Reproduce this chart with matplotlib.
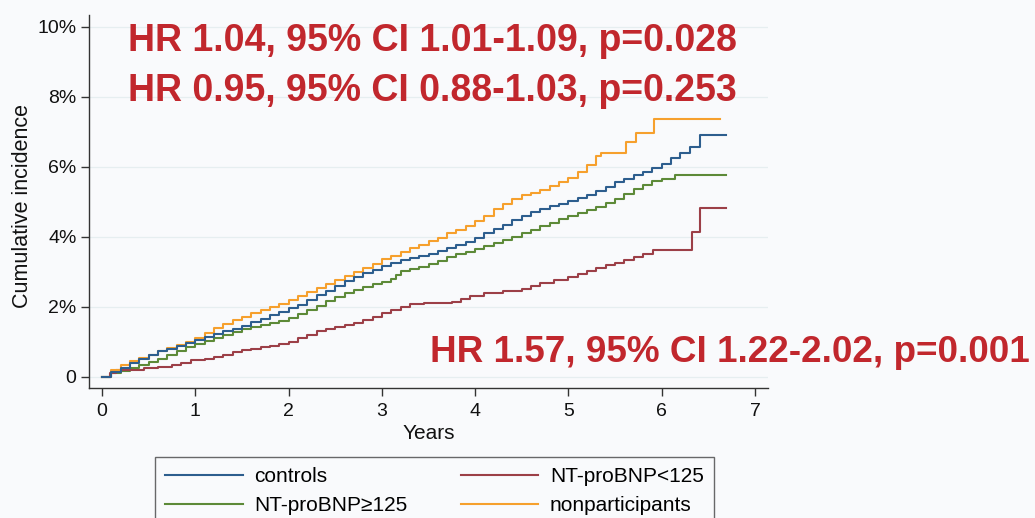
import matplotlib
matplotlib.use("Agg")
import matplotlib.pyplot as plt
from matplotlib.ticker import FixedLocator

plt.rcParams['font.family'] = ['Liberation Sans', 'DejaVu Sans']

# ---- data (cumulative incidence in %) ----
t_controls = [0.0, 0.1, 0.2, 0.3, 0.4, 0.5, 0.6, 0.7, 0.8, 0.9, 1.0, 1.1, 1.2, 1.3, 1.4, 1.5,
              1.6, 1.7, 1.8, 1.9, 2.0, 2.1, 2.2, 2.3, 2.4, 2.5, 2.6, 2.7, 2.8, 2.9, 3.0, 3.1,
              3.2, 3.3, 3.4, 3.5, 3.6, 3.7, 3.8, 3.9, 4.0, 4.1, 4.2, 4.3, 4.4, 4.5, 4.6, 4.7,
              4.8, 4.9, 5.0, 5.1, 5.2, 5.3, 5.4, 5.5, 5.6, 5.7, 5.8, 5.9, 6.0, 6.1, 6.2, 6.3,
              6.41, 6.69]
y_controls = [0.0, 0.13, 0.26, 0.38, 0.5, 0.62, 0.73, 0.8, 0.87, 0.96, 1.04, 1.14, 1.23, 1.3,
              1.36, 1.45, 1.56, 1.66, 1.76, 1.86, 1.95, 2.06, 2.2, 2.33, 2.46, 2.6, 2.73, 2.85,
              2.96, 3.06, 3.15, 3.24, 3.33, 3.4, 3.46, 3.52, 3.58, 3.67, 3.76, 3.86, 3.97, 4.1,
              4.22, 4.34, 4.48, 4.6, 4.7, 4.8, 4.87, 4.94, 5.02, 5.1, 5.2, 5.3, 5.42, 5.55,
              5.65, 5.75, 5.84, 5.95, 6.08, 6.25, 6.4, 6.57, 6.89, 6.89]

t_low = [0.0, 0.08, 0.15, 0.45, 0.6, 0.75, 0.85, 0.95, 1.1, 1.2, 1.3, 1.4, 1.5, 1.6, 1.7, 1.8,
         1.9, 2.0, 2.1, 2.2, 2.3, 2.4, 2.5, 2.6, 2.7, 2.8, 2.9, 3.0, 3.1, 3.2, 3.3, 3.45, 3.75,
         3.85, 3.95, 4.1, 4.3, 4.5, 4.6, 4.7, 4.85, 5.0, 5.1, 5.2, 5.3, 5.4, 5.5, 5.6, 5.7,
         5.8, 5.91, 6.32, 6.41, 6.69]
y_low = [0.0, 0.1, 0.19, 0.24, 0.29, 0.33, 0.4, 0.48, 0.52, 0.57, 0.62, 0.7, 0.76, 0.8, 0.84,
         0.88, 0.93, 1.0, 1.1, 1.2, 1.3, 1.36, 1.42, 1.48, 1.55, 1.62, 1.72, 1.82, 1.92, 2.0,
         2.07, 2.1, 2.14, 2.22, 2.3, 2.38, 2.45, 2.52, 2.6, 2.67, 2.75, 2.86, 2.94, 3.02, 3.1,
         3.2, 3.26, 3.34, 3.42, 3.5, 3.62, 4.14, 4.81, 4.81]

t_high = [0.0, 0.1, 0.2, 0.3, 0.4, 0.5, 0.6, 0.7, 0.8, 0.9, 1.0, 1.1, 1.2, 1.3, 1.4, 1.5, 1.6,
          1.7, 1.8, 1.9, 2.0, 2.1, 2.2, 2.3, 2.4, 2.5, 2.6, 2.7, 2.8, 2.9, 3.0, 3.1, 3.15, 3.2,
          3.3, 3.4, 3.5, 3.6, 3.7, 3.8, 3.9, 4.0, 4.1, 4.2, 4.3, 4.4, 4.5, 4.6, 4.7, 4.8, 4.9,
          5.0, 5.1, 5.2, 5.3, 5.4, 5.5, 5.6, 5.7, 5.8, 5.9, 6.0, 6.14, 6.69]
y_high = [0.0, 0.11, 0.17, 0.24, 0.33, 0.42, 0.52, 0.62, 0.73, 0.85, 0.95, 1.03, 1.12, 1.2,
          1.28, 1.36, 1.43, 1.48, 1.54, 1.6, 1.68, 1.78, 1.9, 2.03, 2.15, 2.27, 2.4, 2.49, 2.57,
          2.65, 2.72, 2.78, 2.92, 3.02, 3.08, 3.14, 3.22, 3.32, 3.42, 3.5, 3.57, 3.65, 3.74,
          3.83, 3.9, 3.99, 4.1, 4.2, 4.3, 4.4, 4.5, 4.6, 4.68, 4.77, 4.86, 4.95, 5.08, 5.22,
          5.36, 5.48, 5.6, 5.66, 5.76, 5.76]

t_nonpart = [0.0, 0.1, 0.2, 0.3, 0.4, 0.5, 0.6, 0.7, 0.8, 0.9, 1.0, 1.1, 1.2, 1.3, 1.4, 1.5,
             1.6, 1.7, 1.8, 1.9, 2.0, 2.1, 2.2, 2.3, 2.4, 2.5, 2.6, 2.7, 2.8, 2.9, 3.0, 3.1,
             3.2, 3.3, 3.4, 3.5, 3.6, 3.7, 3.8, 3.9, 4.0, 4.1, 4.2, 4.3, 4.4, 4.5, 4.6, 4.7,
             4.8, 4.9, 5.0, 5.1, 5.2, 5.3, 5.35, 5.62, 5.72, 5.92, 6.63]
y_nonpart = [0.0, 0.18, 0.33, 0.44, 0.53, 0.63, 0.73, 0.82, 0.9, 0.99, 1.1, 1.25, 1.4, 1.52,
             1.62, 1.72, 1.82, 1.9, 2.0, 2.08, 2.18, 2.3, 2.43, 2.54, 2.65, 2.76, 2.88, 2.99,
             3.11, 3.23, 3.35, 3.46, 3.57, 3.67, 3.77, 3.87, 3.97, 4.1, 4.2, 4.3, 4.45, 4.6,
             4.78, 4.93, 5.08, 5.18, 5.26, 5.34, 5.45, 5.56, 5.68, 5.85, 6.05, 6.3, 6.4, 6.69,
             6.95, 7.35, 7.35]

labels = ["controls", "NT-proBNP<125", "NT-proBNP\u2265125", "nonparticipants"]
hr_texts = ["HR 1.04, 95% CI 1.01-1.09, p=0.028",
            "HR 0.95, 95% CI 0.88-1.03, p=0.253",
            "HR 1.57, 95% CI 1.22-2.02, p=0.001"]
x_ticks = [0, 1, 2, 3, 4, 5, 6, 7]
y_ticks = [0, 2, 4, 6, 8, 10]
y_ticklabels = ["0", "2%", "4%", "6%", "8%", "10%"]

colors = {"controls": "#2d5e8e", "low": "#9c3f47", "high": "#5d8a38", "nonpart": "#f6a02d"}
bg = "#f9fafc"
red_text = "#c1272d"

fig = plt.figure(figsize=(10.35, 5.18), dpi=100, facecolor=bg)
ax = fig.add_axes([89 / 1035, 1 - 388 / 518, (768 - 89) / 1035, (388 - 15) / 518])
ax.set_facecolor(bg)

lw = 1.5
l1, = ax.step(t_controls, y_controls, where='post', color=colors["controls"], lw=lw, zorder=4)
l3, = ax.step(t_high, y_high, where='post', color=colors["high"], lw=lw, zorder=3)
l2, = ax.step(t_low, y_low, where='post', color=colors["low"], lw=lw, zorder=3)
l4, = ax.step(t_nonpart, y_nonpart, where='post', color=colors["nonpart"], lw=lw, zorder=3)

ax.set_xlim(-0.14, 7.14)
ax.set_ylim(-0.32, 10.33)
ax.xaxis.set_major_locator(FixedLocator(x_ticks))
ax.yaxis.set_major_locator(FixedLocator(y_ticks))
ax.set_yticklabels(y_ticklabels)
ax.tick_params(axis='both', labelsize=14, length=6, width=1, color='#333333', labelcolor='#111111')
ax.tick_params(axis='y', pad=3)
ax.tick_params(axis='x', pad=5)
for s in ['top', 'right']:
    ax.spines[s].set_visible(False)
for s in ['left', 'bottom']:
    ax.spines[s].set_color('#333333')
    ax.spines[s].set_linewidth(1.0)
ax.grid(axis='y', color='#e6eef0', lw=0.9)
ax.set_axisbelow(True)

ax.set_ylabel("Cumulative incidence", fontsize=15.5, color='#111111')
ax.yaxis.set_label_coords((33 - 89) / 679, (388 - 206) / 373)
ax.set_xlabel("Years", fontsize=15, color='#111111', labelpad=3)

# HR annotations
fig.text(128 / 1035, 1 - 41 / 518, hr_texts[0], fontsize=27, fontweight='bold', color=red_text,
         ha='left', va='center')
fig.text(128 / 1035, 1 - 91 / 518, hr_texts[1], fontsize=27, fontweight='bold', color=red_text,
         ha='left', va='center')
fig.text(1030 / 1035, 1 - 353 / 518, hr_texts[2], fontsize=26.6, fontweight='bold', color=red_text,
         ha='right', va='center')

leg = fig.legend([l1, l3, l2, l4], [labels[0], labels[2], labels[1], labels[3]],
                 loc='upper left', bbox_to_anchor=(155 / 1035, 1 - 457 / 518), ncol=2,
                 fontsize=15, frameon=True, fancybox=False, edgecolor='#444444',
                 facecolor=bg, handlelength=3.7, handletextpad=0.55, columnspacing=2.6,
                 borderpad=0.5, labelspacing=0.45, borderaxespad=0)
leg.get_frame().set_linewidth(1.0)

fig.savefig("out.png", dpi=100, facecolor=bg)
